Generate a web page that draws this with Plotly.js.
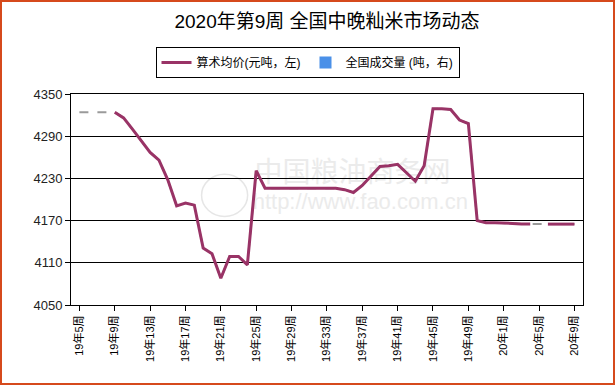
<!DOCTYPE html>
<html>
<head>
<meta charset="utf-8">
<script src="https://cdn.plot.ly/plotly-3.0.1.min.js"></script>
<style>
html,body{margin:0;padding:0;background:#fff;}
#chart{position:absolute;left:0;top:0;width:615px;height:385px;}
#frame{position:absolute;left:0;top:0;width:615px;height:385px;box-sizing:border-box;border:2px solid #d64a1c;pointer-events:none;z-index:10;}
</style>
</head>
<body>
<div id="chart"></div>
<div id="frame"></div>
<script>
// Week categories (2019 W5 .. 2020 W9)
const weeks = [
 '19年5周','19年6周','19年7周','19年8周','19年9周','19年10周','19年11周','19年12周',
 '19年13周','19年14周','19年15周','19年16周','19年17周','19年18周','19年19周','19年20周',
 '19年21周','19年22周','19年23周','19年24周','19年25周','19年26周','19年27周','19年28周',
 '19年29周','19年30周','19年31周','19年32周','19年33周','19年34周','19年35周','19年36周',
 '19年37周','19年38周','19年39周','19年40周','19年41周','19年42周','19年43周','19年44周',
 '19年45周','19年46周','19年47周','19年48周','19年49周','19年50周','19年51周','19年52周',
 '20年1周','20年2周','20年3周','20年4周','20年5周','20年6周','20年7周','20年8周','20年9周'
];
// Average price (元/吨), null = missing week
const avgPrice = [
 4324, null, null, null, 4324, 4316, 4300, 4283,
 4267, 4256, 4228, 4191, 4195, 4192, 4131, 4123,
 4088, 4119, 4119, 4107, 4241, 4216, 4216, 4216,
 4216, 4216, 4216, 4216, 4216, 4216, 4214, 4210,
 4220, 4233, 4247, 4248, 4250, 4238, 4226, 4248,
 4329, 4329, 4328, 4313, 4308, 4170, 4167, 4167,
 4167, 4166, 4165, 4165, null, 4165, 4165, 4165, 4165
];
// National volume (吨) - no values shown
const volume = weeks.map(() => null);
const tickLabels = weeks.filter((w, i) => i % 4 === 0);

const cjk = '"Liberation Sans", Arial, "Noto Sans CJK SC", sans-serif';

const traces = [
  {x: weeks, y: avgPrice, type: 'scatter', mode: 'lines', connectgaps: true,
   line: {color: '#9a9a9a', width: 2, dash: 'dash'}, showlegend: false, hoverinfo: 'skip'},
  {x: weeks, y: avgPrice, type: 'scatter', mode: 'lines', connectgaps: false,
   name: '算术均价(元吨，左)', line: {color: '#993366', width: 3}},
  {x: weeks, y: volume, type: 'bar', yaxis: 'y2', name: '全国成交量 (吨，右)',
   marker: {color: '#4a90e8'}}
];

const layout = {
  width: 615, height: 385,
  margin: {l: 71, r: 32, t: 94, b: 80},
  paper_bgcolor: '#fff', plot_bgcolor: '#fff',
  font: {family: cjk, color: '#000'},
  title: {text: '2020年第9周 全国中晚籼米市场动态', font: {size: 19, color: '#000', family: cjk},
          x: 0.5, xanchor: 'center', y: 0.945, yanchor: 'middle', xref: 'paper'},
  showlegend: true,
  legend: {orientation: 'h', xref: 'container', yref: 'container', x: 0.5, xanchor: 'center',
           y: 0.878, yanchor: 'top', bordercolor: '#000', borderwidth: 1, bgcolor: '#fff',
           font: {size: 12, color: '#000', family: cjk}, itemwidth: 30, traceorder: 'normal'},
  xaxis: {type: 'category', categoryorder: 'array', categoryarray: weeks,
          range: [-0.95, 56.97], tickmode: 'array', tickvals: tickLabels, ticktext: tickLabels,
          tickangle: -90, tickfont: {size: 11, color: '#000'}, ticks: 'outside', ticklen: 5,
          tickcolor: '#000', showline: true, linecolor: '#000', linewidth: 1, mirror: true,
          showgrid: false, zeroline: false, fixedrange: true},
  yaxis: {range: [4050, 4350], tickmode: 'array', tickvals: [4050, 4110, 4170, 4230, 4290, 4350],
          tickfont: {size: 13, color: '#222'}, ticks: 'outside', ticklen: 5, tickcolor: '#000',
          showline: true, linecolor: '#000', linewidth: 1, mirror: true,
          showgrid: true, gridcolor: '#000', gridwidth: 1, zeroline: false, fixedrange: true},
  yaxis2: {overlaying: 'y', side: 'right', visible: false, range: [0, 1]},
  shapes: [
    {type: 'circle', xref: 'paper', yref: 'paper', x0: 0.255, x1: 0.345, y0: 0.42, y1: 0.62,
     line: {color: '#e6e6e6', width: 1.5}, layer: 'below'},
    {type: 'rect', xref: 'paper', yref: 'paper', x0: 0.3, x1: 0.8, y0: 0.58, y1: 0.7,
     line: {width: 0}, fillcolor: 'rgba(0,0,0,0)', layer: 'below',
     label: {text: '中国粮油商务网', font: {size: 28, color: '#ebebeb', family: cjk}}},
    {type: 'rect', xref: 'paper', yref: 'paper', x0: 0.33, x1: 0.8, y0: 0.44, y1: 0.56,
     line: {width: 0}, fillcolor: 'rgba(0,0,0,0)', layer: 'below',
     label: {text: 'http://www.fao.com.cn', font: {size: 22, color: '#ebebeb', family: cjk}}}
  ]
};

Plotly.newPlot('chart', traces, layout, {displayModeBar: false, staticPlot: true});
</script>
</body>
</html>
